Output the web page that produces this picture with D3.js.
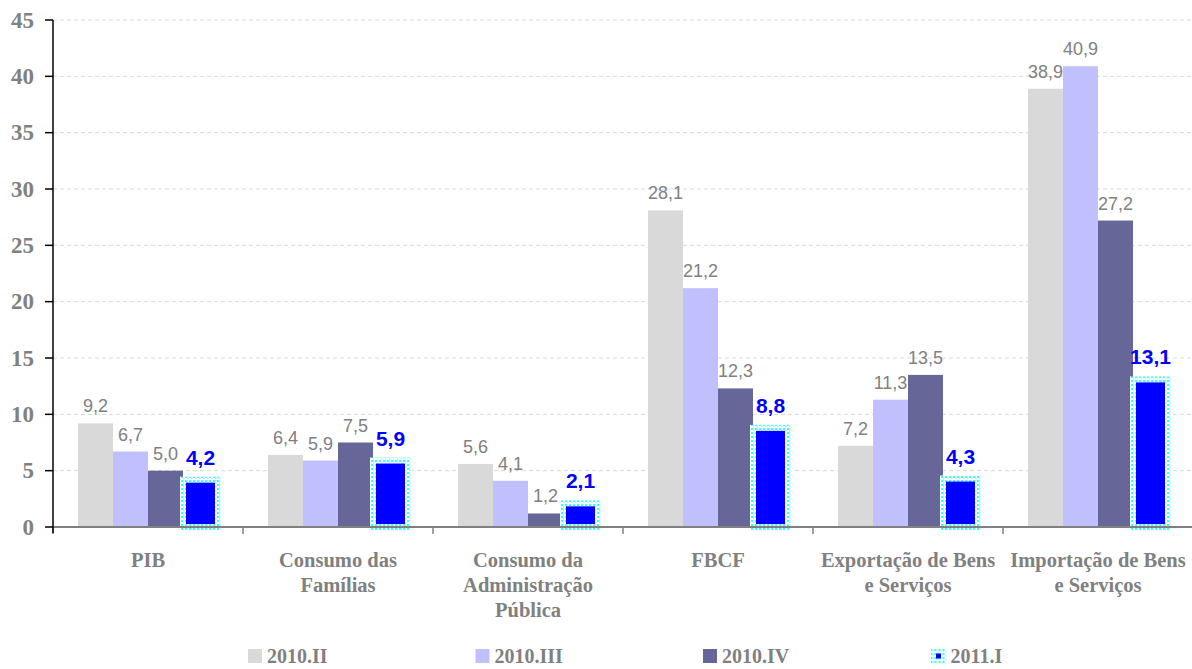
<!DOCTYPE html>
<html>
<head>
<meta charset="utf-8">
<script src="https://cdn.jsdelivr.net/npm/d3@7"></script>
<style>
  html, body { margin: 0; padding: 0; background: #fff; }
  svg { display: block; }
</style>
</head>
<body>
<svg id="chart" width="1192" height="669"></svg>
<script>
// Variação (%) por componente da demanda
const categories = [
  ["PIB"],
  ["Consumo das", "Famílias"],
  ["Consumo da", "Administração", "Pública"],
  ["FBCF"],
  ["Exportação de Bens", "e Serviços"],
  ["Importação de Bens", "e Serviços"]
];
const seriesNames = ["2010.II", "2010.III", "2010.IV", "2011.I"];
const s2010II  = [9.2, 6.4, 5.6, 28.1, 7.2, 38.9];
const s2010III = [6.7, 5.9, 4.1, 21.2, 11.3, 40.9];
const s2010IV  = [5.0, 7.5, 1.2, 12.3, 13.5, 27.2];
const s2011I   = [4.2, 5.9, 2.1, 8.8, 4.3, 13.1];
const yTicks = [0, 5, 10, 15, 20, 25, 30, 35, 40, 45];

const seriesValues = [s2010II, s2010III, s2010IV, s2011I];
const colors = ["#D9D9D9", "#C0C0FF", "#666699", "#0000FF"];

const svg = d3.select("#chart");
const serif = "'Liberation Serif', 'Times New Roman', serif";
const sans = "'Liberation Sans', Arial, sans-serif";

const plotLeft = 53, plotRight = 1193, plotTop = 20, plotBottom = 527;

// dotted cyan border used by the 2011.I bars
const defs = svg.append("defs");
const pat = defs.append("pattern")
  .attr("id", "dots").attr("patternUnits", "userSpaceOnUse")
  .attr("width", 4).attr("height", 4);
pat.append("rect").attr("width", 4).attr("height", 4).attr("fill", "#fff");
pat.append("rect").attr("x", 0).attr("y", 0).attr("width", 2).attr("height", 2).attr("fill", "#33FFFF");
pat.append("rect").attr("x", 2).attr("y", 2).attr("width", 1.5).attr("height", 1.5).attr("fill", "#99FFFF");

const catKeys = categories.map(c => c.join(" "));
const x0 = d3.scaleBand().domain(catKeys).range([plotLeft, plotRight]).padding(0);
const x1 = d3.scaleBand().domain(seriesNames).range([25, 165]).padding(0);
const y = d3.scaleLinear().domain([0, 45]).range([plotBottom, plotTop]);

// gridlines
svg.append("g").selectAll("line")
  .data(yTicks.filter(t => t > 0))
  .join("line")
  .attr("x1", plotLeft).attr("x2", plotRight)
  .attr("y1", d => y(d)).attr("y2", d => y(d))
  .attr("stroke", "#D9D9D9").attr("stroke-width", 1)
  .attr("stroke-dasharray", "4,3");

// bars
const groups = svg.append("g").selectAll("g")
  .data(catKeys)
  .join("g")
  .attr("transform", d => `translate(${x0(d)},0)`);

seriesNames.forEach((name, si) => {
  const vals = seriesValues[si];
  const isLast = si === 3;
  groups.append("rect")
    .attr("x", x1(name))
    .attr("y", (d, i) => y(vals[i]))
    .attr("width", x1.bandwidth())
    .attr("height", (d, i) => y(0) - y(vals[i]))
    .attr("fill", colors[si])
    .attr("stroke", isLast ? "url(#dots)" : "none")
    .attr("stroke-width", isLast ? 6 : 0);

  groups.append("text")
    .attr("x", x1(name) + x1.bandwidth() / 2)
    .attr("y", (d, i) => y(vals[i]) - (isLast ? 15 : 11))
    .attr("text-anchor", "middle")
    .attr("font-family", sans)
    .attr("font-size", isLast ? 21 : 18)
    .attr("font-weight", isLast ? "bold" : "normal")
    .attr("fill", isLast ? "#0000FF" : "#808080")
    .text((d, i) => d3.format(".1f")(vals[i]).replace(".", ","));
});

// x axis
const xAxis = svg.append("g");
xAxis.append("line")
  .attr("x1", plotLeft).attr("x2", plotRight)
  .attr("y1", plotBottom).attr("y2", plotBottom)
  .attr("stroke", "#808080").attr("stroke-width", 2);
xAxis.selectAll("line.tick")
  .data(catKeys)
  .join("line")
  .attr("class", "tick")
  .attr("x1", d => x0(d)).attr("x2", d => x0(d))
  .attr("y1", plotBottom).attr("y2", plotBottom + 7)
  .attr("stroke", "#808080").attr("stroke-width", 1.5);

// category labels
const catText = svg.append("g").selectAll("text")
  .data(categories)
  .join("text")
  .attr("text-anchor", "middle")
  .attr("font-family", serif)
  .attr("font-weight", "bold")
  .attr("font-size", 20.5)
  .attr("fill", "#808080");
catText.selectAll("tspan")
  .data((d) => d.map(line => ({ line, key: d.join(" ") })))
  .join("tspan")
  .attr("x", d => x0(d.key) + x0.bandwidth() / 2)
  .attr("y", (d, i) => 567 + i * 25)
  .text(d => d.line);

// y axis
const yAxis = svg.append("g");
yAxis.append("line")
  .attr("x1", plotLeft).attr("x2", plotLeft)
  .attr("y1", plotTop).attr("y2", plotBottom + 6)
  .attr("stroke", "#000").attr("stroke-width", 1.5);
yAxis.selectAll("line.tick")
  .data(yTicks)
  .join("line")
  .attr("class", "tick")
  .attr("x1", plotLeft - 8).attr("x2", plotLeft)
  .attr("y1", d => y(d)).attr("y2", d => y(d))
  .attr("stroke", "#000").attr("stroke-width", 1.5);
yAxis.selectAll("text")
  .data(yTicks)
  .join("text")
  .attr("x", 34)
  .attr("y", d => y(d))
  .attr("dy", "0.33em")
  .attr("text-anchor", "end")
  .attr("font-family", serif)
  .attr("font-weight", "bold")
  .attr("font-size", 23)
  .attr("fill", "#808080")
  .text(d => d);

// legend
const legend = svg.append("g").selectAll("g")
  .data(seriesNames)
  .join("g")
  .attr("transform", (d, i) => `translate(${248 + i * 227.5},649)`);
legend.append("rect")
  .attr("x", (d, i) => i === 3 ? 3 : 0)
  .attr("y", (d, i) => i === 3 ? 2 : 0)
  .attr("width", (d, i) => i === 3 ? 10 : 14)
  .attr("height", (d, i) => i === 3 ? 10 : 14)
  .attr("fill", (d, i) => colors[i])
  .attr("stroke", (d, i) => i === 3 ? "url(#dots)" : "none")
  .attr("stroke-width", (d, i) => i === 3 ? 5 : 0);
legend.append("text")
  .attr("x", (d, i) => i === 3 ? 20 : 19)
  .attr("y", 14)
  .attr("font-family", serif)
  .attr("font-weight", "bold")
  .attr("font-size", 20)
  .attr("fill", "#808080")
  .text(d => d);
</script>
</body>
</html>
